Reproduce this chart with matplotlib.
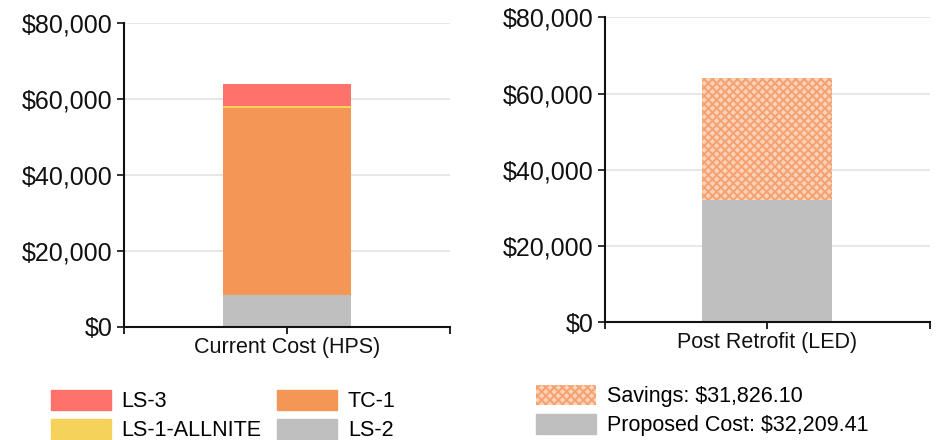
import matplotlib
matplotlib.use("Agg")
import matplotlib.pyplot as plt
from matplotlib.patches import Patch
from matplotlib.ticker import FuncFormatter

plt.rcParams["font.family"] = ["Liberation Sans", "DejaVu Sans"]
plt.rcParams["hatch.linewidth"] = 1.4

# current cost by rate schedule (stacked bottom -> top)
current_label = "Current Cost (HPS)"
current_names = ["LS-2", "TC-1", "LS-1-ALLNITE", "LS-3"]
current_values = [8450, 49300, 400, 5885]
current_colours = ["#bfbfbf", "#f39656", "#f5d35a", "#ff716b"]

# post retrofit split
retrofit_label = "Post Retrofit (LED)"
proposed_cost = 32209.41
savings = 31826.10

y_ticks = [0, 20000, 40000, 60000, 80000]
money = FuncFormatter(lambda v, _: f"${v:,.0f}")

SAVE_FACE = "#fcd3b8"
SAVE_HATCH = "#f5a170"


def style_axes(ax, cat_label):
    ax.set_xlim(-0.5, 0.5)
    ax.set_ylim(0, 80000)
    ax.set_yticks(y_ticks)
    ax.yaxis.set_major_formatter(money)
    ax.set_xticks([-0.5, 0, 0.5])
    ax.set_xticklabels(["", cat_label, ""], fontsize=15.5, color="#111111")
    ax.tick_params(axis="y", labelsize=18, length=5, width=1.2, colors="#111111")
    ax.tick_params(axis="x", length=5, width=1.2, pad=2)
    for s in ("top", "right"):
        ax.spines[s].set_visible(False)
    for s in ("left", "bottom"):
        ax.spines[s].set_linewidth(1.5)
        ax.spines[s].set_color("#111111")
    ax.yaxis.grid(True, color="#e3e3e3", linewidth=1.2)
    ax.set_axisbelow(True)


fig = plt.figure(figsize=(9.37, 4.4), dpi=100)
ax1 = fig.add_axes([124 / 937, 113 / 440, 326 / 937, 304 / 440])
ax2 = fig.add_axes([605 / 937, 117.7 / 440, 325 / 937, 305 / 440])

# left: stacked current cost
bottom = 0
for name, val, col in zip(current_names, current_values, current_colours):
    ax1.bar(0, val, width=0.39, bottom=bottom, color=col, label=name)
    bottom += val
style_axes(ax1, current_label)

# right: proposed cost + savings
ax2.bar(0, proposed_cost, width=0.4, color="#bfbfbf")
ax2.bar(0, savings, width=0.4, bottom=proposed_cost, facecolor=SAVE_FACE,
        edgecolor=SAVE_HATCH, hatch="xxxx", linewidth=0)
style_axes(ax2, retrofit_label)

# legends (column-major fill: LS-3 / LS-1-ALLNITE, then TC-1 / LS-2)
order = [3, 2, 1, 0]
left_handles = [Patch(color=current_colours[i]) for i in order]
left_labels = [current_names[i] for i in order]
fig.legend(left_handles, left_labels, ncol=2, loc="upper left",
           bbox_to_anchor=(42 / 937, 1 - 381 / 440), frameon=False,
           fontsize=15.5, handlelength=2.8, handleheight=1.1,
           handletextpad=0.5, columnspacing=0.7, labelspacing=0.3,
           borderaxespad=0)

right_handles = [Patch(facecolor=SAVE_FACE, edgecolor=SAVE_HATCH, hatch="xxxx", linewidth=0),
                 Patch(color="#bfbfbf")]
right_labels = [f"Savings: ${savings:,.2f}", f"Proposed Cost: ${proposed_cost:,.2f}"]
fig.legend(right_handles, right_labels, loc="upper left",
           bbox_to_anchor=(527 / 937, 1 - 376 / 440), frameon=False,
           fontsize=15.5, handlelength=2.8, handleheight=1.1,
           handletextpad=0.5, labelspacing=0.3, borderaxespad=0)

fig.savefig("out.png", dpi=100)
